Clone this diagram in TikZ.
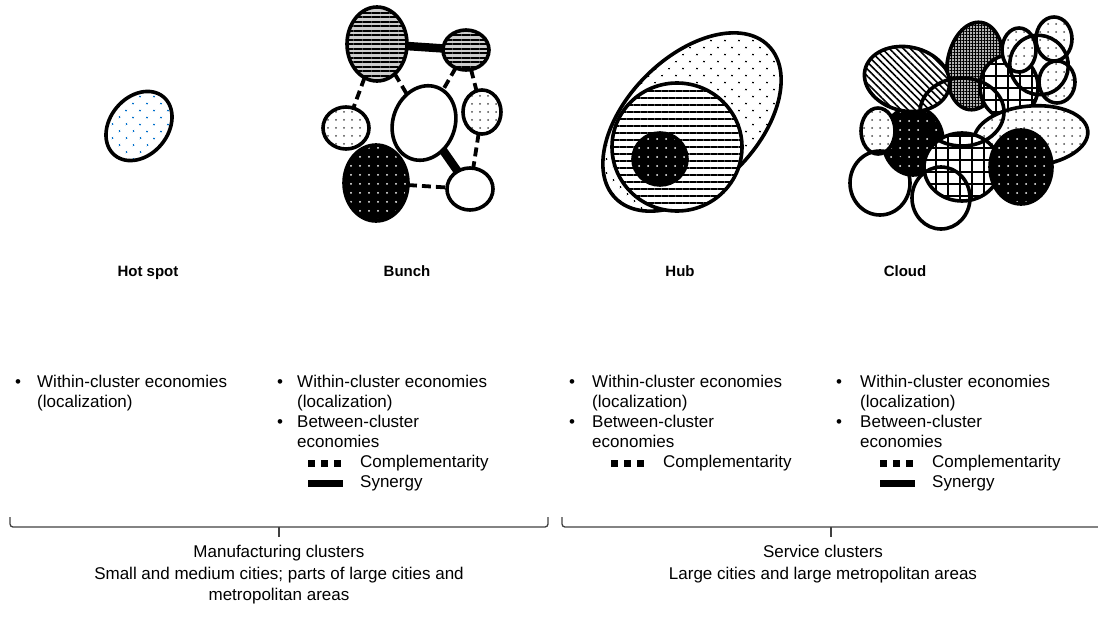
\documentclass[tikz,border=0pt]{standalone}
\usepackage{fontspec}
\setmainfont{Liberation Sans}
\usetikzlibrary{shapes.geometric,patterns.meta}

\tikzset{
  blob/.style={ellipse, draw, line width=3.6pt, inner sep=0pt, outer sep=0pt},
  sz/.style 2 args={minimum width=#1pt, minimum height=#2pt},
  dotfill/.style={preaction={fill=white}, pattern={Dots[distance=8pt,radius=1pt]}, pattern color=gray!60!black},
  sparsedots/.style={preaction={fill=white}, pattern={Dots[angle=45,distance=10.5pt,radius=1.1pt]}, pattern color=#1},
  blackdots/.style={preaction={fill=black}, pattern={Dots[distance=9pt,radius=1pt]}, pattern color=white},
  hlines/.style={preaction={fill=white}, pattern={Lines[distance=7pt,line width=2.6pt]}},
  greylines/.style={preaction={fill=gray!40}, pattern={Lines[distance=4.5pt,line width=2pt]}},
  slant/.style={preaction={fill=white}, pattern={Lines[angle=-45,distance=5pt,line width=1.6pt]}},
  checks/.style={preaction={fill=gray!60}, pattern={Hatch[distance=3pt,line width=0.9pt]}},
  meshfill/.style={preaction={fill=white}, pattern={Hatch[distance=12pt,line width=2.2pt]}},
  compl/.style={line width=3.8pt, dash pattern=on 9pt off 5pt},
  syn/.style={line width=8.5pt},
  keycompl/.style={line width=7pt, dash pattern=on 7pt off 6pt},
  keysyn/.style={line width=7pt},
  brk/.style={line width=1.3pt, draw=black!75},
  title/.style={font=\bfseries\fontsize{15}{18}\selectfont, text height=11pt, text depth=3pt},
  txt/.style={font=\fontsize{17}{20}\selectfont, inner sep=0pt, text height=12pt, text depth=4pt, anchor=west},
  foot/.style={font=\fontsize{17}{21.5}\selectfont, align=center, inner sep=0pt, anchor=north},
}

\begin{document}
\begin{tikzpicture}[x=1pt, y=-1pt]
\useasboundingbox (0,0) rectangle (1098,616);

% hot spot
\node[blob, sz={76}{58}, rotate=50, sparsedots=blue!45!cyan!80!black] (hs) at (139,126) {};

% bunch
\node[blob, sz={60}{74}, greylines] (bTL) at (377,44) {};
\node[blob, sz={46}{40}, greylines] (bTR) at (466,50) {};
\node[blob, sz={46}{42}, dotfill] (bL) at (346,128) {};
\node[blob, sz={62}{76}, rotate=-20, fill=white] (bM) at (424,123) {};
\node[blob, sz={38}{44}, dotfill] (bR) at (482,112) {};
\node[blob, sz={64}{76}, blackdots] (bBL) at (376,183) {};
\node[blob, sz={46}{42}, fill=white] (bBR) at (470,189) {};
\draw[syn] (bTL) -- (bTR);
\draw[syn] (bM) -- (bBR);
\draw[compl] (bTL) -- (bL);
\draw[compl] (bTL) -- (bM);
\draw[compl] (bTR) -- (bM);
\draw[compl] (bTR) -- (bR);
\draw[compl] (bR) -- (bBR);
\draw[compl] (bBL) -- (bBR);

% hub
\node[blob, sz={216}{130}, rotate=45, sparsedots=black] (hOut) at (692,122) {};
\node[blob, sz={130}{128}, hlines] (hMid) at (677,147) {};
\node[blob, sz={54}{52}, blackdots] (hCore) at (660,159) {};

% cloud
\node[blob, sz={56}{88}, rotate=-8, checks] (cGrey) at (975,66) {};
\node[blob, sz={58}{64}, meshfill] (cMeshA) at (1009,87) {};
\node[blob, sz={34}{44}, dotfill] (cDotA) at (1019,50) {};
\node[blob, sz={36}{44}, dotfill] (cDotB) at (1054,39) {};
\node[blob, sz={36}{42}, dotfill] (cDotC) at (1057,82) {};
\node[blob, sz={114}{60}, rotate=5, dotfill] (cDotBig) at (1031,136) {};
\node[blob, sz={60}{68}, blackdots] (cBlackA) at (913,141) {};
\node[blob, sz={86}{64}, rotate=-12, slant] (cSlant) at (907,79) {};
\node[blob, sz={34}{46}, dotfill] (cDotD) at (878,131) {};
\node[blob, sz={76}{68}, meshfill] (cMeshB) at (962,167) {};
\node[blob, sz={62}{74}, blackdots] (cBlackB) at (1021,167) {};
\node[blob, sz={58}{60}, rotate=30] (cRingA) at (1039,65) {};
\node[blob, sz={84}{68}] (cRingB) at (962,112) {};
\node[blob, sz={60}{64}] (cRingC) at (880,183) {};
\node[blob, sz={58}{62}] (cRingD) at (941,198) {};

% titles
\node[title] (t1) at (148,272) {Hot spot};
\node[title] (t2) at (407,272) {Bunch};
\node[title] (t3) at (680,272) {Hub};
\node[title] (t4) at (905,272) {Cloud};

% hot spot list
\node[txt] (a1) at (15,383) {•};
\node[txt] (a2) at (37,383) {Within-cluster economies};
\node[txt] (a3) at (37,403) {(localization)};

% bunch list
\node[txt] (b1) at (277,383) {•};
\node[txt] (b2) at (297,383) {Within-cluster economies};
\node[txt] (b3) at (297,403) {(localization)};
\node[txt] (b4) at (277,423) {•};
\node[txt] (b5) at (297,423) {Between-cluster};
\node[txt] (b6) at (297,443) {economies};
\node[txt] (k2c) at (360,463) {Complementarity};
\node[txt] (k2s) at (360,483) {Synergy};
\draw[keycompl] ([xshift=-52pt]k2c.west) -- ++(33,0);
\draw[keysyn] ([xshift=-52pt]k2s.west) -- ++(35,0);

% hub list
\node[txt] (c1) at (569,383) {•};
\node[txt] (c2) at (592,383) {Within-cluster economies};
\node[txt] (c3) at (592,403) {(localization)};
\node[txt] (c4) at (569,423) {•};
\node[txt] (c5) at (592,423) {Between-cluster};
\node[txt] (c6) at (592,443) {economies};
\node[txt] (k3c) at (663,463) {Complementarity};
\draw[keycompl] ([xshift=-52pt]k3c.west) -- ++(33,0);

% cloud list
\node[txt] (d1) at (836,383) {•};
\node[txt] (d2) at (860,383) {Within-cluster economies};
\node[txt] (d3) at (860,403) {(localization)};
\node[txt] (d4) at (836,423) {•};
\node[txt] (d5) at (860,423) {Between-cluster};
\node[txt] (d6) at (860,443) {economies};
\node[txt] (k4c) at (932,463) {Complementarity};
\node[txt] (k4s) at (932,483) {Synergy};
\draw[keycompl] ([xshift=-52pt]k4c.west) -- ++(33,0);
\draw[keysyn] ([xshift=-52pt]k4s.west) -- ++(35,0);

% brackets
\draw[brk, rounded corners=3pt] (10,517) |- (279,527) -| (548,517);
\draw[brk, line width=2pt] (279,527) -- (279,537);
\draw[brk, rounded corners=3pt] (562,517) |- (831,527) -- (1098,527);
\draw[brk, line width=2pt] (831,527) -- (831,537);

\node[foot] (m1) at (279,545) {Manufacturing clusters\\Small and medium cities; parts of large cities and\\metropolitan areas};
\node[foot] (s1) at (823,545) {Service clusters\\Large cities and large metropolitan areas};
\end{tikzpicture}
\end{document}
